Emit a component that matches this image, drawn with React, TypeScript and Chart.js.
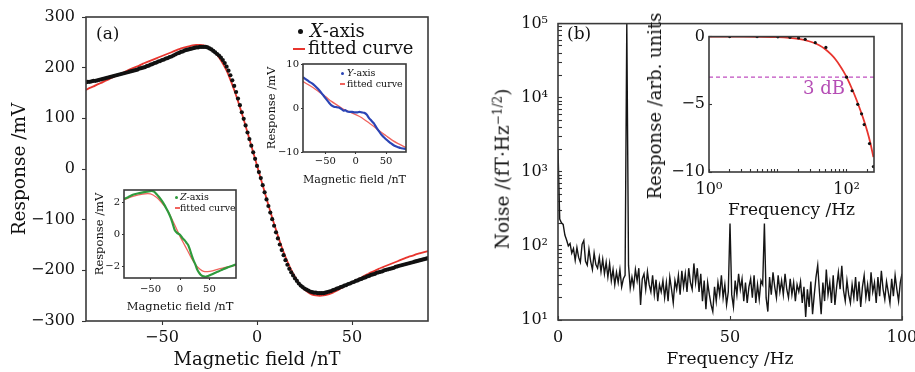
import React, { useEffect, useRef } from "react";
import { Chart, registerables } from "chart.js";
Chart.register(...registerables);

// ---------------- data ----------------
// (a) main: X-axis response vs magnetic field (one measured dot per nT)
const A_X_TICKS = [-50, 0, 50];
const A_Y_TICKS = [-300, -200, -100, 0, 100, 200, 300];
const A_DOT_FIELD = [
  -90, -89, -88, -87, -86, -85, -84, -83, -82, -81, -80, -79, -78, -77, -76, -75, -74, -73, -72, -71,
  -70, -69, -68, -67, -66, -65, -64, -63, -62, -61, -60, -59, -58, -57, -56, -55, -54, -53, -52, -51,
  -50, -49, -48, -47, -46, -45, -44, -43, -42, -41, -40, -39, -38, -37, -36, -35, -34, -33, -32, -31,
  -30, -29, -28, -27, -26, -25, -24, -23, -22, -21, -20, -19, -18, -17, -16, -15, -14, -13, -12, -11,
  -10, -9, -8, -7, -6, -5, -4, -3, -2, -1, 0, 1, 2, 3, 4, 5, 6, 7, 8, 9,
  10, 11, 12, 13, 14, 15, 16, 17, 18, 19, 20, 21, 22, 23, 24, 25, 26, 27, 28, 29,
  30, 31, 32, 33, 34, 35, 36, 37, 38, 39, 40, 41, 42, 43, 44, 45, 46, 47, 48, 49,
  50, 51, 52, 53, 54, 55, 56, 57, 58, 59, 60, 61, 62, 63, 64, 65, 66, 67, 68, 69,
  70, 71, 72, 73, 74, 75, 76, 77, 78, 79, 80, 81, 82, 83, 84, 85, 86, 87, 88, 89, 90,
];
const A_DOT_RESP = [
  171, 172, 172, 173, 174, 174, 175, 176, 177, 178, 179, 180, 181, 182, 183, 184, 185, 186, 187, 188,
  189, 190, 191, 192, 193, 194, 195, 196, 198, 199, 200, 201, 203, 204, 206, 207, 209, 210, 212, 213,
  215, 216, 218, 219, 221, 222, 224, 226, 228, 229, 231, 232, 234, 235, 236, 237, 238, 239, 240, 240,
  241, 241, 241, 241, 240, 238, 236, 233, 230, 227, 224, 220, 215, 209, 202, 194, 185, 175, 164, 152,
  139, 126, 112, 99, 86, 72, 59, 46, 33, 20, 6, -6, -18, -32, -46, -60, -73, -86, -99, -112,
  -125, -137, -149, -160, -170, -180, -189, -197, -204, -210, -216, -221, -226, -230, -233, -236, -238, -240, -242, -243,
  -244, -244, -245, -245, -245, -245, -244, -243, -242, -241, -239, -238, -236, -235, -233, -232, -230, -229, -227, -226,
  -224, -223, -221, -220, -218, -217, -215, -214, -212, -211, -209, -208, -207, -205, -204, -203, -202, -200, -199, -198,
  -197, -196, -195, -193, -192, -191, -190, -189, -188, -187, -186, -185, -184, -183, -182, -181, -180, -179, -178, -177, -176,
];
const A_FIT_FIELD = [
  -90, -88, -86, -84, -82, -80, -78, -76, -74, -72, -70, -68, -66, -64, -62, -60, -58, -56, -54, -52,
  -50, -48, -46, -44, -42, -40, -38, -36, -34, -32, -30, -28, -26, -24, -22, -20, -18, -16, -14, -12,
  -10, -8, -6, -4, -2, 0, 2, 4, 6, 8, 10, 12, 14, 16, 18, 20, 22, 24, 26, 28,
  30, 32, 34, 36, 38, 40, 42, 44, 46, 48, 50, 52, 54, 56, 58, 60, 62, 64, 66, 68,
  70, 72, 74, 76, 78, 80, 82, 84, 86, 88, 90,
];
const A_FIT_RESP = [
  156, 160, 163, 167, 170, 174, 177, 181, 184, 188, 191, 195, 198, 201, 204, 208, 211, 214, 217, 220,
  223, 226, 229, 232, 235, 238, 240, 242, 244, 245, 245, 244, 241, 235, 229, 220, 208, 194, 176, 156,
  134, 110, 85, 59, 33, 7, -19, -45, -71, -96, -120, -143, -164, -183, -199, -213, -225, -234, -241, -246,
  -249, -250, -250, -249, -247, -244, -240, -236, -232, -228, -224, -220, -216, -212, -208, -204, -201, -197, -194, -191,
  -188, -185, -182, -179, -176, -173, -171, -168, -166, -164, -162,
];

// (a) inset: Y-axis
const Y_X_TICKS = [-50, 0, 50];
const Y_Y_TICKS = [-10, 0, 10];
const Y_FIELD = [-87, -82, -77, -72, -67, -62, -57, -52, -48, -44, -40, -36, -32, -28, -24, -20, -17, -14, -10, -6, -2,
  2, 6, 10, 14, 18, 22, 26, 30, 34, 38, 42, 46, 50, 54, 58, 62, 66, 70, 74, 78, 83];
const Y_RESP = [7.0, 6.5, 6.0, 5.6, 5.0, 4.3, 3.5, 2.6, 1.9, 1.2, 0.6, 0.3, 0.2, 0.1, -0.2, -0.6, -0.5, -0.8, -0.9, -0.9, -1.0,
  -1.0, -0.9, -1.0, -1.1, -1.5, -2.3, -2.9, -3.5, -4.4, -5.2, -6.0, -6.6, -7.1, -7.6, -8.0, -8.4, -8.7, -8.9, -9.1, -9.2, -9.3];
const Y_FIT_FIELD = [-87, -70, -60, -50, -40, -30, -20, -10, 0, 10, 20, 30, 40, 50, 60, 70, 83];
const Y_FIT_RESP = [6.0, 4.6, 3.6, 2.6, 1.5, 0.6, -0.3, -0.9, -1.5, -2.2, -3.2, -4.2, -5.3, -6.3, -7.3, -8.1, -9.0];

// (a) inset: Z-axis
const Z_X_TICKS = [-50, 0, 50];
const Z_Y_TICKS = [-2, 0, 2];
const Z_FIELD = [-95, -88, -80, -72, -63, -56, -48, -44, -40, -36, -31, -27, -23, -19, -15, -12, -9, -5, 0, 4,
  8, 11, 14, 17, 20, 23, 26, 29, 32, 35, 38, 42, 46, 52, 58, 65, 73, 80, 88, 95];
const Z_RESP = [2.24, 2.35, 2.5, 2.58, 2.65, 2.7, 2.74, 2.7, 2.55, 2.38, 2.14, 1.9, 1.63, 1.35, 1.0, 0.65, 0.3, 0.12, 0, -0.2,
  -0.35, -0.5, -0.65, -0.95, -1.3, -1.6, -1.85, -2.15, -2.35, -2.5, -2.58, -2.62, -2.6, -2.5, -2.4, -2.3, -2.15, -2.05, -1.95, -1.85];
const Z_FIT_FIELD = [-95, -80, -63, -50, -40, -32, -23, -14, -5, 0, 5, 13, 20, 27, 34, 40, 47, 55, 65, 75, 85, 95];
const Z_FIT_RESP = [2.2, 2.4, 2.55, 2.56, 2.35, 2.05, 1.63, 1.0, 0.3, -0.1, -0.45, -1.0, -1.5, -1.9, -2.15, -2.28, -2.3, -2.25, -2.15, -2.05, -1.97, -1.9];

// (b) noise spectrum, one value every 0.5 Hz from 0 to 100 Hz
const B_STEP_HZ = 0.5;
const B_NOISE = [
  2000, 230, 205, 195, 140, 120, 100, 108, 80, 92,
  64, 95, 70, 60, 105, 118, 62, 55, 90, 62,
  48, 80, 56, 50, 70, 45, 66, 42, 60, 38,
  58, 34, 48, 30, 44, 32, 48, 28, 36, 40,
  100000, 55, 27, 38, 28, 48, 34, 50, 16, 36,
  42, 26, 45, 30, 24, 40, 22, 35, 18, 30,
  24, 34, 20, 32, 18, 38, 26, 17, 34, 26,
  40, 22, 46, 28, 42, 24, 50, 32, 26, 58,
  32, 50, 24, 42, 18, 34, 14, 32, 22, 16,
  13, 28, 18, 32, 22, 40, 20, 30, 16, 24,
  200, 22, 15, 34, 22, 42, 26, 36, 18, 32,
  17, 28, 36, 20, 40, 17, 30, 19, 34, 30,
  200, 20, 13, 38, 22, 44, 28, 20, 40, 24,
  34, 22, 42, 26, 20, 36, 22, 32, 18, 30,
  24, 33, 17, 28, 11, 26, 15, 33, 12, 22,
  38, 55, 24, 12, 32, 18, 48, 22, 32, 17,
  40, 16, 28, 44, 26, 54, 25, 18, 34, 22,
  17, 30, 20, 38, 18, 33, 15, 28, 40, 20,
  30, 18, 44, 24, 32, 17, 38, 21, 46, 26,
  19, 33, 24, 17, 36, 21, 40, 26, 18, 32,
  42,
];
const B_X_TICKS = [0, 50, 100];
const B_Y_TICKS = [10, 20, 30, 40, 50, 60, 70, 80, 90, 100, 200, 300, 400, 500, 600, 700, 800, 900,
  1000, 2000, 3000, 4000, 5000, 6000, 7000, 8000, 9000, 10000, 20000, 30000, 40000, 50000, 60000, 70000, 80000, 90000, 100000];

// (b) inset: frequency response
const BI_FREQ = [2, 5, 10, 15, 20, 25, 35, 50, 100, 120, 145, 165, 180, 215, 245];
const BI_RESP = [0, 0, -0.02, -0.05, -0.1, -0.2, -0.45, -0.8, -3.0, -4.0, -5.0, -5.7, -6.5, -7.9, -9.6];
const BI_FIT_FREQ = [1, 2, 5, 10, 20, 30, 40, 50, 60, 70, 80, 90, 100, 120, 140, 160, 180, 200, 220, 245];
const BI_FIT_RESP = [0, 0, -0.01, -0.04, -0.17, -0.38, -0.64, -0.97, -1.34, -1.73, -2.15, -2.57, -3.0, -3.87, -4.7, -5.5, -6.25, -7.0, -7.8, -8.9];
const BI_3DB_FREQ = [1, 250];
const BI_3DB_RESP = [-3, -3];
const BI_X_TICKS = [1, 2, 3, 4, 5, 6, 7, 8, 9, 10, 20, 30, 40, 50, 60, 70, 80, 90, 100, 200];
const BI_Y_TICKS = [-10, -5, 0];

// ---------------- styling ----------------
const FONT = "'DejaVu Serif','Liberation Serif',serif";
const INK = "#111";
const RED = "#e8352e";
const PINK = "#f0645e";
const BLUE = "#2b44b5";
const GREEN = "#2f9a3c";
const PURPLE = "#c04fc0";

const SUP: Record<string, string> = { "0": "\u2070", "1": "\u00b9", "2": "\u00b2", "3": "\u00b3", "4": "\u2074", "5": "\u2075" };
const fmt = (v: number) => (v < 0 ? "\u2212" + Math.abs(v) : String(v));
const powLabel = (v: number) => {
  const e = Math.log10(v);
  if (Math.abs(e - Math.round(e)) > 1e-9) return "";
  return "10" + String(Math.round(e)).split("").map((c) => SUP[c]).join("");
};
const pts = (xs: number[], ys: number[]) => xs.map((x, i) => ({ x, y: ys[i] }));

const boxPlugin = {
  id: "box",
  afterDraw(chart: any) {
    const { ctx, chartArea } = chart;
    ctx.save();
    ctx.strokeStyle = "#3a3a3a";
    ctx.lineWidth = 1.6;
    ctx.strokeRect(chartArea.left, chartArea.top, chartArea.right - chartArea.left, chartArea.bottom - chartArea.top);
    ctx.restore();
  },
};

function axis(o: any) {
  const isY = o.pos === "left";
  return {
    type: o.type || "linear",
    position: o.pos,
    min: o.min,
    max: o.max,
    afterFit: (s: any) => {
      if (isY) s.width = o.size;
      else s.height = o.size;
    },
    afterBuildTicks: (s: any) => {
      s.ticks = o.ticks.map((v: number) => ({ value: v }));
    },
    grid: { drawOnChartArea: false, drawTicks: true, tickLength: o.tickLen ?? 4, tickColor: "#333", tickWidth: 1.1, color: INK },
    border: { display: false },
    ticks: {
      autoSkip: false,
      maxRotation: 0,
      minRotation: 0,
      padding: o.pad,
      color: INK,
      font: { family: FONT, size: o.font },
      callback: o.label || fmt,
    },
    title: o.title
      ? { display: true, text: o.title, color: INK, font: { family: FONT, size: o.titleSize }, padding: o.titlePad }
      : { display: false },
  };
}

function cfg(datasets: any[], scales: any, padding: any) {
  return {
    type: "scatter",
    data: { datasets },
    options: {
      responsive: false,
      animation: false,
      devicePixelRatio: 1,
      events: [],
      layout: { padding },
      plugins: { legend: { display: false }, tooltip: { enabled: false } },
      scales,
    },
    plugins: [boxPlugin],
  };
}

const lineDs = (data: any[], color: string, width: number, extra: any = {}) => ({
  data,
  showLine: true,
  borderColor: color,
  borderWidth: width,
  pointRadius: 0,
  tension: 0.3,
  ...extra,
});
const dotDs = (data: any[], color: string, r: number) => ({
  data,
  showLine: false,
  pointRadius: r,
  pointBackgroundColor: color,
  pointBorderWidth: 0,
  backgroundColor: color,
});

const buildA = () =>
  cfg(
    [dotDs(pts(A_DOT_FIELD, A_DOT_RESP), "#111", 2.1), lineDs(pts(A_FIT_FIELD, A_FIT_RESP), RED, 1.8)],
    {
      x: axis({ pos: "bottom", min: -90, max: 90, ticks: A_X_TICKS, size: 51, font: 16, pad: 3, title: "Magnetic field /nT", titleSize: 18, titlePad: { top: 0, bottom: 1 } }),
      y: axis({ pos: "left", min: -300, max: 300, ticks: A_Y_TICKS, size: 86, font: 16, pad: 7, title: "Response /mV", titleSize: 18.5, titlePad: { top: 9, bottom: 0 } }),
    },
    { top: 17, right: 32, left: 0, bottom: 0 }
  );

const buildY = () =>
  cfg(
    [lineDs(pts(Y_FIELD, Y_RESP), BLUE, 2.2, { tension: 0.2 }), lineDs(pts(Y_FIT_FIELD, Y_FIT_RESP), PINK, 1.3)],
    {
      x: axis({ pos: "bottom", min: -87, max: 83, ticks: Y_X_TICKS, size: 38, font: 10, pad: 1, tickLen: 2, title: "Magnetic field /nT", titleSize: 11.5, titlePad: { top: 0, bottom: 3 } }),
      y: axis({ pos: "left", min: -10, max: 10, ticks: Y_Y_TICKS, size: 45, font: 10, pad: 2, tickLen: 2, title: "Response /mV", titleSize: 11.5, titlePad: { top: 7, bottom: 0 } }),
    },
    { top: 8, right: 9, left: 0, bottom: 0 }
  );

const buildZ = () =>
  cfg(
    [lineDs(pts(Z_FIELD, Z_RESP), GREEN, 2.2, { tension: 0.2 }), lineDs(pts(Z_FIT_FIELD, Z_FIT_RESP), PINK, 1.3)],
    {
      x: axis({ pos: "bottom", min: -95, max: 95, ticks: Z_X_TICKS, size: 40, font: 10, pad: 3, tickLen: 2, title: "Magnetic field /nT", titleSize: 11.5, titlePad: { top: 0, bottom: 4 } }),
      y: axis({ pos: "left", min: -2.7, max: 2.8, ticks: Z_Y_TICKS, size: 36, font: 10, pad: 2, tickLen: 2, title: "Response /mV", titleSize: 11.5, titlePad: { top: 5, bottom: 0 } }),
    },
    { top: 7, right: 9, left: 0, bottom: 0 }
  );

const buildB = () =>
  cfg(
    [lineDs(B_NOISE.map((v, i) => ({ x: i * B_STEP_HZ, y: v })), "#151515", 1.4, { tension: 0 })],
    {
      x: axis({ pos: "bottom", min: 0, max: 100, ticks: B_X_TICKS, size: 52, font: 16, pad: 12, tickLen: -4, title: "Frequency /Hz", titleSize: 17, titlePad: { top: 0, bottom: 2 } }),
      y: axis({ pos: "left", type: "logarithmic", min: 10, max: 100000, ticks: B_Y_TICKS, size: 88, font: 16, pad: 14, tickLen: -4, label: powLabel }),
    },
    { top: 16, right: 28, left: 0, bottom: 0 }
  );

const buildBI = () =>
  cfg(
    [
      dotDs(pts(BI_FREQ, BI_RESP), "#111", 1.6),
      lineDs(pts(BI_FIT_FREQ, BI_FIT_RESP), RED, 1.8),
      lineDs(pts(BI_3DB_FREQ, BI_3DB_RESP), PURPLE, 1.3, { borderDash: [4, 3], tension: 0 }),
    ],
    {
      x: axis({ pos: "bottom", type: "logarithmic", min: 1, max: 250, ticks: BI_X_TICKS, size: 53, font: 16, pad: 11, tickLen: -3, label: (v: number) => (v === 1 || v === 100 ? powLabel(v) : ""), title: "Frequency /Hz", titleSize: 17, titlePad: { top: 0, bottom: 4 } }),
      y: axis({ pos: "left", min: -10, max: 0, ticks: BI_Y_TICKS, size: 79, font: 16, pad: 7, tickLen: -3 }),
    },
    { top: 16, right: 21, left: 0, bottom: 0 }
  );

function ChartCanvas({ left, top, width, height, build }: any) {
  const ref = useRef<HTMLCanvasElement | null>(null);
  useEffect(() => {
    const chart = new Chart(ref.current as HTMLCanvasElement, build());
    return () => chart.destroy();
  }, []);
  return <canvas ref={ref} width={width} height={height} style={{ position: "absolute", left, top, width, height }} />;
}

function Label({ x, y, size, color = INK, rot = false, children }: any) {
  return (
    <div
      style={{
        position: "absolute",
        left: x,
        top: y,
        transform: rot ? "translate(-50%,-50%) rotate(-90deg)" : "translateY(-50%)",
        fontFamily: FONT,
        fontSize: size,
        color,
        whiteSpace: "nowrap",
        lineHeight: 1,
      }}
    >
      {children}
    </div>
  );
}
const Dot = ({ x, y, r, c }: any) => (
  <div style={{ position: "absolute", left: x - r, top: y - r, width: 2 * r, height: 2 * r, borderRadius: "50%", background: c }} />
);
const Dash = ({ x1, x2, y, c, h = 2 }: any) => (
  <div style={{ position: "absolute", left: x1, top: y - h / 2, width: x2 - x1, height: h, background: c }} />
);

export default function App() {
  return (
    <div style={{ position: "fixed", left: 0, top: 0, width: 915, height: 372, overflow: "hidden", background: "#fff" }}>
      <ChartCanvas left={0} top={0} width={460} height={372} build={buildA} />
      <ChartCanvas left={470} top={0} width={460} height={372} build={buildB} />
      <ChartCanvas left={258} top={56} width={157} height={134} build={buildY} />
      <ChartCanvas left={88} top={182} width={157} height={136} build={buildZ} />
      <ChartCanvas left={630} top={20} width={265} height={205} build={buildBI} />

      {/* panel (a) annotations */}
      <Label x={96} y={33} size={17}>(a)</Label>
      <Dot x={300} y={31} r={2.5} c="#111" />
      <Label x={310} y={31} size={18}><i>X</i>-axis</Label>
      <Dash x1={293} x2={305} y={49} c={RED} />
      <Label x={308} y={48} size={18}>fitted curve</Label>

      <Dot x={342} y={73} r={1.5} c={BLUE} />
      <Label x={347} y={73} size={9.5}><i>Y</i>-axis</Label>
      <Dash x1={340} x2={345} y={84} c={PINK} />
      <Label x={347} y={84} size={9.5}>fitted curve</Label>

      <Dot x={176} y={197} r={1.5} c={GREEN} />
      <Label x={180} y={197} size={9.5}><i>Z</i>-axis</Label>
      <Dash x1={175} x2={180} y={208} c={PINK} />
      <Label x={180} y={208} size={9.5}>fitted curve</Label>

      {/* panel (b) annotations */}
      <Label x={567} y={33} size={17}>(b)</Label>
      <Label x={502} y={169} size={18.5} rot>
        Noise /(fT·Hz<sup style={{ fontSize: "0.65em" }}>−1/2</sup>)
      </Label>
      <Label x={655} y={106} size={18} rot>Response /arb. units</Label>
      <Label x={803} y={88} size={18} color="#b54db5">3 dB</Label>
    </div>
  );
}
